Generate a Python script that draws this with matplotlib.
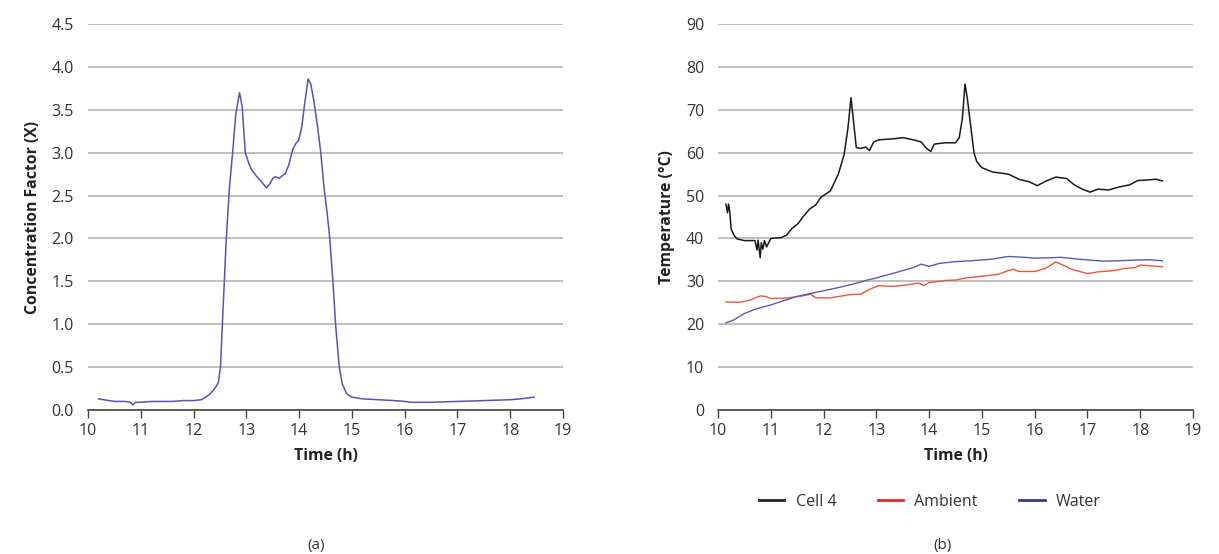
import matplotlib
matplotlib.use("Agg")
import matplotlib.pyplot as plt
from matplotlib.lines import Line2D

plt.rcParams['font.family'] = ['Open Sans', 'DejaVu Sans']

# (a) concentration factor
conc_t = [10.2, 10.3, 10.4, 10.5, 10.6, 10.7, 10.8, 10.85, 10.9, 11.0, 11.2, 11.4, 11.6, 11.8,
          12.0, 12.15, 12.3, 12.4, 12.47, 12.51, 12.56, 12.62, 12.68, 12.74, 12.8, 12.87, 12.92,
          12.98, 13.05, 13.1, 13.2, 13.3, 13.38, 13.45, 13.5, 13.55, 13.62, 13.7, 13.74, 13.8,
          13.88, 13.95, 13.99, 14.05, 14.1, 14.17, 14.22, 14.28, 14.35, 14.41, 14.47, 14.53, 14.58,
          14.64, 14.69, 14.76, 14.82, 14.9, 15.0, 15.2, 15.5, 15.8, 16.0, 16.1, 16.5, 17.0, 17.5,
          18.0, 18.2, 18.45]
conc_x = [0.13, 0.12, 0.11, 0.10, 0.10, 0.10, 0.09, 0.06, 0.09, 0.09, 0.10, 0.10, 0.10, 0.11,
          0.11, 0.12, 0.18, 0.25, 0.32, 0.5, 1.2, 2.0, 2.6, 3.0, 3.45, 3.70, 3.54,
          3.0, 2.87, 2.80, 2.72, 2.65, 2.59, 2.64, 2.70, 2.72, 2.70, 2.74, 2.76, 2.85,
          3.04, 3.12, 3.14, 3.30, 3.55, 3.86, 3.80, 3.60, 3.30, 3.0, 2.6, 2.3, 2.0,
          1.5, 1.0, 0.5, 0.30, 0.19, 0.15, 0.13, 0.12, 0.11, 0.10, 0.09, 0.09, 0.10, 0.11,
          0.12, 0.13, 0.15]

# (b) temperatures
cell_t = [10.15, 10.18, 10.2, 10.22, 10.25, 10.3, 10.36, 10.5, 10.7, 10.74, 10.76, 10.8, 10.82,
          10.85, 10.88, 10.92, 11.0, 11.2, 11.3, 11.4, 11.52, 11.62, 11.74, 11.85, 11.95, 12.13,
          12.28, 12.39, 12.46, 12.52, 12.57, 12.62, 12.7, 12.8, 12.87, 12.95, 13.05, 13.3, 13.5,
          13.7, 13.85, 13.95, 14.03, 14.1, 14.3, 14.5, 14.57, 14.63, 14.68, 14.72, 14.78, 14.85,
          14.9, 15.0, 15.2, 15.5, 15.7, 15.9, 16.05, 16.2, 16.4, 16.6, 16.75, 16.9, 17.05, 17.2,
          17.4, 17.6, 17.8, 17.95, 18.1, 18.3, 18.42]
cell_v = [48.0, 46.0, 48.0, 46.5, 42.2, 40.8, 39.9, 39.5, 39.5, 37.3, 39.6, 35.5, 39.0,
          37.5, 39.5, 38.0, 40.0, 40.2, 40.8, 42.3, 43.5, 45.2, 46.9, 47.8, 49.6, 51.1,
          55.0, 59.6, 65.5, 72.8, 67.0, 61.2, 61.0, 61.3, 60.5, 62.5, 63.0, 63.2, 63.5,
          63.0, 62.5, 61.0, 60.3, 62.0, 62.3, 62.3, 63.5, 68.0, 76.0, 73.0, 67.0, 60.0,
          58.0, 56.5, 55.5, 55.0, 53.8, 53.2, 52.3, 53.3, 54.3, 54.0, 52.5, 51.5, 50.8, 51.5,
          51.3, 52.0, 52.5, 53.5, 53.6, 53.8, 53.4]
amb_t = [10.15, 10.4, 10.6, 10.8, 10.9, 11.0, 11.3, 11.6, 11.75, 11.85, 12.1, 12.3, 12.5, 12.7,
         12.9, 13.05, 13.3, 13.6, 13.8, 13.9, 14.0, 14.3, 14.5, 14.7, 15.0, 15.3, 15.5, 15.6,
         15.7, 16.0, 16.2, 16.4, 16.5, 16.7, 17.0, 17.2, 17.5, 17.7, 17.9, 18.0, 18.2, 18.42]
amb_v = [25.2, 25.1, 25.6, 26.6, 26.5, 26.0, 26.1, 26.6, 27.0, 26.2, 26.1, 26.5, 26.9, 27.0,
         28.3, 29.0, 28.8, 29.2, 29.6, 29.0, 29.7, 30.2, 30.3, 30.8, 31.2, 31.6, 32.5, 32.8,
         32.3, 32.3, 33.0, 34.5, 34.0, 32.8, 31.8, 32.2, 32.5, 33.0, 33.2, 33.8, 33.6, 33.4]
water_t = [10.15, 10.3, 10.5, 10.7, 11.0, 11.2, 11.5, 11.8, 12.0, 12.3, 12.6, 12.8, 13.0, 13.3,
           13.5, 13.7, 13.85, 14.0, 14.2, 14.5, 14.8, 15.0, 15.2, 15.5, 15.8, 16.0, 16.3, 16.5,
           16.8, 17.0, 17.3, 17.6, 18.0, 18.2, 18.42]
water_v = [20.3, 21.0, 22.5, 23.5, 24.5, 25.3, 26.5, 27.3, 27.8, 28.6, 29.5, 30.2, 30.8, 31.8,
           32.5, 33.2, 34.0, 33.5, 34.2, 34.6, 34.8, 35.0, 35.2, 35.8, 35.6, 35.4, 35.5, 35.6,
           35.2, 35.0, 34.7, 34.8, 35.0, 35.0, 34.8]

x_ticks = list(range(10, 20))

fig = plt.figure(figsize=(12.19, 5.54), dpi=100)
ax1 = fig.add_axes([0.0722, 0.2599, 0.3897, 0.6968])
ax2 = fig.add_axes([0.589, 0.2599, 0.3897, 0.6968])


def style(ax):
    ax.set_xlim(10, 19)
    ax.set_xticks(x_ticks)
    ax.grid(axis='y', color='#b4b4b4', linewidth=1.2)
    ax.set_axisbelow(True)
    for s in ['top', 'right', 'left']:
        ax.spines[s].set_visible(False)
    ax.spines['bottom'].set_color('#444444')
    ax.spines['bottom'].set_linewidth(1.2)
    ax.tick_params(axis='x', direction='out', length=6, width=1.0, color='#444444',
                   labelsize=11.5, labelcolor='#333333', pad=3)
    ax.tick_params(axis='y', length=0, labelsize=11.5, labelcolor='#333333', pad=10)
    ax.set_xlabel('Time (h)', fontsize=11.3, fontweight='bold', color='#222222', labelpad=7)


ax1.plot(conc_t, conc_x, color='#5555b0', linewidth=1.1)
style(ax1)
ax1.set_ylim(0, 4.5)
ax1.set_yticks([i * 0.5 for i in range(10)])
ax1.set_yticklabels(['%.1f' % (i * 0.5) for i in range(10)])
ax1.set_ylabel('Concentration Factor (X)', fontsize=11.3, fontweight='bold', color='#222222',
               labelpad=8)

ax2.plot(cell_t, cell_v, color='#1a1a1a', linewidth=1.1)
ax2.plot(amb_t, amb_v, color='#e35a3e', linewidth=1.0)
ax2.plot(water_t, water_v, color='#5a5ab8', linewidth=1.0)
style(ax2)
ax2.set_ylim(0, 90)
ax2.set_yticks(range(0, 100, 10))
ax2.set_ylabel('Temperature (°C)', fontsize=11.3, fontweight='bold', color='#222222', labelpad=8)

handles = [Line2D([], [], color='#222222', linewidth=2),
           Line2D([], [], color='#e8242a', linewidth=2),
           Line2D([], [], color='#333a90', linewidth=2)]
fig.legend(handles, ['Cell 4', 'Ambient', 'Water'], loc='center', ncol=3,
           bbox_to_anchor=(930 / 1219, 1 - 502 / 554), frameon=False, fontsize=11.5,
           handlelength=1.6, handletextpad=0.7, columnspacing=2.6, labelcolor='#333333')

fig.text(316 / 1219, 1 - 545 / 554, '(a)', ha='center', va='center', fontsize=11, color='#333333')
fig.text(942 / 1219, 1 - 545 / 554, '(b)', ha='center', va='center', fontsize=11, color='#333333')

fig.savefig('out.png', dpi=100)
